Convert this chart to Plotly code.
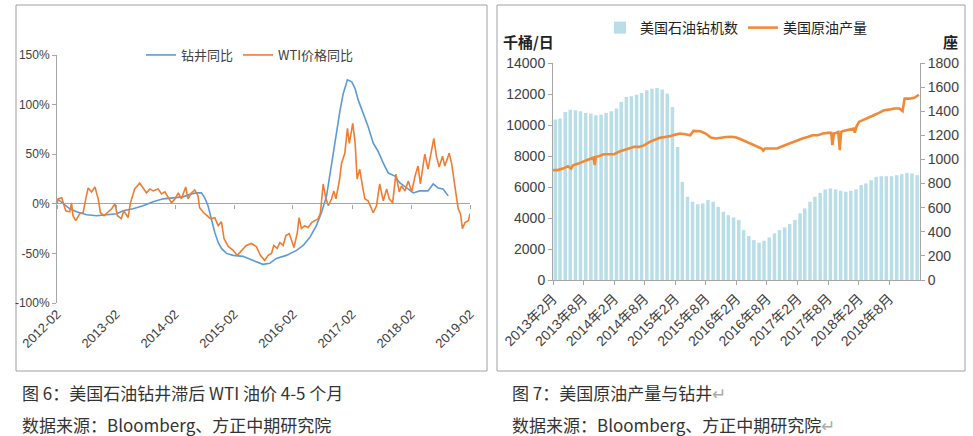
import plotly.graph_objects as go

W, H = 973, 436

# ---------------- Left chart data (YoY, %) ----------------
rig_dates = ["2012-02-03", "2012-03-10", "2012-04-20", "2012-06-01", "2012-08-02", "2012-10-03",
             "2012-12-04", "2013-02-05", "2013-03-16", "2013-05-17", "2013-07-18", "2013-09-18",
             "2013-11-20", "2014-01-21", "2014-03-22", "2014-05-13", "2014-06-13", "2014-07-14",
             "2014-08-04", "2014-08-24", "2014-09-14", "2014-10-05", "2014-10-26", "2014-11-15",
             "2014-12-16", "2015-01-27", "2015-03-28", "2015-05-29", "2015-07-30", "2015-09-10",
             "2015-10-21", "2015-12-22", "2016-02-23", "2016-04-04", "2016-05-15", "2016-06-25",
             "2016-07-26", "2016-08-27", "2016-09-17", "2016-10-07", "2016-10-28", "2016-11-18",
             "2016-12-08", "2017-01-03", "2017-01-30", "2017-02-20", "2017-03-10", "2017-04-10",
             "2017-05-11", "2017-06-12", "2017-07-12", "2017-08-13", "2017-09-13", "2017-10-24",
             "2017-11-24", "2018-01-05", "2018-02-15", "2018-03-26", "2018-05-17", "2018-06-18",
             "2018-07-18", "2018-08-18", "2018-09-19"]
rig_yoy = [5, 0, -5, -8, -11, -12,
           -11, -10, -7, -5, -2, 2,
           5, 6, 7, 10, 11, 11,
           6, -2, -15, -29, -39, -45,
           -50, -52, -53, -57, -61, -60,
           -55, -52, -47, -42, -34, -22,
           -9, 8, 31, 51, 71, 94,
           111, 125, 123, 116, 105, 91,
           78, 61, 53, 41, 31, 28,
           21, 16, 11, 13, 13, 20,
           16, 15, 8]

wti_dates = ["2012-02-01", "2012-02-09", "2012-03-01", "2012-03-10", "2012-03-26", "2012-04-20", "2012-05-01",
             "2012-05-10", "2012-05-27", "2012-06-21", "2012-07-12", "2012-07-28", "2012-08-12",
             "2012-09-02", "2012-09-23", "2012-10-13", "2012-10-27", "2012-11-18", "2012-12-08",
             "2013-01-05", "2013-01-25", "2013-02-09", "2013-03-05", "2013-03-20", "2013-04-16",
             "2013-05-01", "2013-05-27", "2013-06-27", "2013-07-18", "2013-08-08", "2013-08-29",
             "2013-09-18", "2013-10-19", "2013-11-09", "2013-11-30", "2013-12-21", "2014-01-10",
             "2014-02-01", "2014-02-21", "2014-03-12", "2014-04-08", "2014-04-22", "2014-05-13",
             "2014-06-03", "2014-06-23", "2014-07-03", "2014-07-28", "2014-08-18", "2014-09-08",
             "2014-10-05", "2014-10-26", "2014-11-15", "2014-12-01", "2014-12-27", "2015-01-27",
             "2015-02-21", "2015-03-18", "2015-04-18", "2015-05-19", "2015-06-19", "2015-07-14",
             "2015-08-10", "2015-08-31", "2015-09-21", "2015-10-05", "2015-10-26", "2015-11-12",
             "2015-12-02", "2015-12-19", "2016-01-09", "2016-01-24", "2016-02-07", "2016-02-28",
             "2016-03-10", "2016-03-24", "2016-04-14", "2016-05-05", "2016-05-26", "2016-06-15",
             "2016-07-06", "2016-07-20", "2016-08-06", "2016-08-23", "2016-09-07", "2016-09-27",
             "2016-10-11", "2016-10-24", "2016-11-14", "2016-11-28", "2016-12-18", "2017-01-03",
             "2017-01-15", "2017-02-05", "2017-02-20", "2017-03-04", "2017-03-20", "2017-04-06",
             "2017-04-21", "2017-05-11", "2017-06-12", "2017-07-02", "2017-07-22", "2017-08-13",
             "2017-09-03", "2017-09-19", "2017-10-10", "2017-10-30", "2017-11-20", "2017-12-04",
             "2017-12-25", "2018-01-15", "2018-02-05", "2018-02-26", "2018-03-16", "2018-03-31",
             "2018-04-27", "2018-05-17", "2018-06-07", "2018-06-22", "2018-07-08", "2018-07-25",
             "2018-08-15", "2018-08-29", "2018-09-25", "2018-10-10", "2018-10-30", "2018-11-20",
             "2018-12-04", "2018-12-16", "2019-01-01", "2019-01-22", "2019-02-01"]
wti_yoy = [0, 5, 6, 2, -7, -8, 1,
           -12, -17, -10, -9, 5, 16,
           12, 17, 5, -9, -12, -9,
           -5, 0, -12, -15, -7, -14,
           1, 15, 21, 16, 11, 15,
           13, 15, 10, 12, 6, 1,
           5, 11, 5, 17, 5, 11,
           14, 8, -4, -9, -12, -15,
           -14, -22, -18, -35, -43, -47,
           -52, -48, -42, -40, -43, -52,
           -57, -52, -50, -42, -45, -39,
           -42, -32, -30, -37, -44, -29,
           -14, -25, -22, -24, -19, -17,
           -15, -9, 20, 5, -2, 5,
           13, 5, 23, 41, 51, 76,
           61, 81, 61, 25, 35, 18,
           5, 3, -9, -2, 20, 3,
           15, 5, 1, 30, 12, 18,
           13, 23, 12, 28, 38, 20,
           50, 35, 53, 66, 48, 37,
           48, 38, 51, 41, 18, -5,
           -10, -25, -19, -17, -10]

left_ticks = ["2012-02-01", "2013-02-01", "2014-02-01", "2015-02-01", "2016-02-01",
              "2017-02-01", "2018-02-01", "2019-02-01"]
left_ticktext = ["2012-02", "2013-02", "2014-02", "2015-02", "2016-02", "2017-02", "2018-02", "2019-02"]
left_yvals = [-100, -50, 0, 50, 100, 150]
left_ytext = ["-100%", "-50%", "0%", "50%", "100%", "150%"]

# ---------------- Right chart data ----------------
# monthly oil rig count (2013-02 .. 2019-01)
rig_months = ["%d-%02d-15" % (2013 + (1 + k) // 12, (1 + k) % 12 + 1) for k in range(72)]
rig_count = [1331, 1339, 1394, 1413, 1408, 1400, 1386, 1380, 1367, 1372, 1386, 1400,
             1422, 1477, 1518, 1524, 1537, 1551, 1574, 1587, 1593, 1580, 1546, 1436,
             1104, 814, 690, 649, 629, 635, 663, 649, 607, 566, 538, 519,
             497, 414, 364, 331, 309, 326, 353, 387, 414, 436, 464, 497,
             552, 594, 649, 690, 723, 751, 759, 751, 740, 732, 740, 751,
             787, 801, 828, 856, 861, 861, 861, 870, 878, 889, 883, 870]

prod_dates = ["2013-02-01", "2013-03-01", "2013-04-01", "2013-05-01", "2013-05-20", "2013-06-01",
              "2013-07-01", "2013-08-01", "2013-09-01", "2013-10-01", "2013-10-08", "2013-10-15",
              "2013-11-01", "2013-12-01", "2014-01-01", "2014-02-01", "2014-03-01", "2014-04-01",
              "2014-05-01", "2014-06-01", "2014-07-01", "2014-08-01", "2014-09-01", "2014-10-01",
              "2014-11-01", "2014-12-01", "2015-01-01", "2015-02-01", "2015-03-01", "2015-04-01",
              "2015-05-01", "2015-05-20", "2015-06-01", "2015-07-01", "2015-08-01", "2015-09-01",
              "2015-10-01", "2015-11-01", "2015-12-01", "2016-01-01", "2016-02-01", "2016-03-01",
              "2016-04-01", "2016-05-01", "2016-06-01", "2016-07-01", "2016-07-10", "2016-07-20",
              "2016-08-01", "2016-09-01", "2016-10-01", "2016-11-01", "2016-12-01", "2017-01-01",
              "2017-02-01", "2017-03-01", "2017-04-01", "2017-05-01", "2017-06-01", "2017-07-01",
              "2017-08-01", "2017-08-20", "2017-08-27", "2017-09-05", "2017-09-20", "2017-10-01",
              "2017-10-10", "2017-10-18", "2017-11-01", "2017-12-01", "2018-01-01", "2018-01-08",
              "2018-01-18", "2018-02-01", "2018-03-01", "2018-04-01", "2018-05-01", "2018-06-01",
              "2018-07-01", "2018-08-01", "2018-09-01", "2018-10-01", "2018-10-20", "2018-11-01",
              "2018-12-01", "2019-01-01", "2019-01-25"]
prod_kbd = [7090, 7090, 7190, 7340, 7190, 7400,
            7510, 7620, 7770, 7900, 7420, 7950,
            7990, 8110, 8110, 8120, 8270, 8370,
            8480, 8590, 8590, 8700, 8910, 9060,
            9170, 9230, 9280, 9380, 9450, 9400,
            9340, 9620, 9620, 9600, 9450, 9190,
            9130, 9190, 9230, 9240, 9190, 9060,
            8910, 8760, 8630, 8480, 8350, 8480,
            8480, 8480, 8480, 8630, 8760, 8910,
            9020, 9130, 9230, 9340, 9340, 9450,
            9490, 9500, 8700, 9450, 9500, 9550,
            8380, 9550, 9620, 9710, 9770, 9500,
            9900, 10200, 10350, 10480, 10630, 10780,
            10950, 10990, 11060, 11060, 10900, 11700,
            11700, 11770, 11950]

right_ticks = ["2013-02-01", "2013-08-01", "2014-02-01", "2014-08-01", "2015-02-01", "2015-08-01",
               "2016-02-01", "2016-08-01", "2017-02-01", "2017-08-01", "2018-02-01", "2018-08-01"]
right_ticktext = ["2013年2月", "2013年8月", "2014年2月", "2014年8月", "2015年2月", "2015年8月",
                  "2016年2月", "2016年8月", "2017年2月", "2017年8月", "2018年2月", "2018年8月"]

# ---------------- Figure ----------------
FONT = "Liberation Sans Narrow, Liberation Sans, Noto Sans CJK SC, sans-serif"
CJK = "Noto Sans CJK SC, Liberation Sans, sans-serif"
AX = "#A6A6A6"
TXT = "#404040"

def fx(p):
    return p / W

def fy(p):
    return 1 - p / H

L_X = [fx(57), fx(470)]
L_Y = [fy(303), fy(55)]
R_X = [fx(553), fx(920)]
R_Y = [fy(280), fy(63)]
zero_pos = L_Y[0] + (0 - (-100)) / 250 * (L_Y[1] - L_Y[0])

fig = go.Figure()
fig.add_trace(go.Scatter(x=rig_dates, y=rig_yoy, name="钻井同比", mode="lines",
                         line=dict(color="#5B9BD5", width=1.6), xaxis="x", yaxis="y", legend="legend"))
fig.add_trace(go.Scatter(x=wti_dates, y=wti_yoy, name="WTI价格同比", mode="lines",
                         line=dict(color="#ED7D31", width=1.6), xaxis="x", yaxis="y", legend="legend"))
fig.add_trace(go.Scatter(x=[], y=[], xaxis="x3", yaxis="y", showlegend=False, hoverinfo="skip"))
fig.add_trace(go.Bar(x=rig_months, y=rig_count, name="美国石油钻机数", marker=dict(color="#B9DEE8", line_width=0),
                     xaxis="x2", yaxis="y2", legend="legend2"))
fig.add_trace(go.Scatter(x=prod_dates, y=prod_kbd, name="美国原油产量", mode="lines",
                         line=dict(color="#F08A36", width=2.6), xaxis="x2", yaxis="y3", legend="legend2"))

common = dict(automargin=False, showgrid=False)
fig.update_layout(
    width=W, height=H,
    margin=dict(l=0, r=0, t=0, b=0, autoexpand=False),
    paper_bgcolor="white", plot_bgcolor="rgba(0,0,0,0)",
    font=dict(family=FONT, size=12, color=TXT),
    bargap=0.25,
    xaxis=dict(domain=L_X, anchor="y", type="date", range=["2012-02-01", "2019-02-01"],
               tickvals=left_ticks, ticktext=left_ticktext, tickangle=-45,
               zeroline=False, showline=False, ticks="",
               tickfont=dict(size=13, color=TXT), **common),
    xaxis3=dict(overlaying="x", anchor="free", position=zero_pos, type="date",
                range=["2012-02-01", "2019-02-01"], tickvals=left_ticks, showticklabels=False,
                ticks="outside", ticklen=4, tickcolor=AX, zeroline=False, showline=False, **common),
    yaxis=dict(domain=L_Y, anchor="x", range=[-100, 150], tickvals=left_yvals, ticktext=left_ytext,
               showline=True, linecolor=AX, ticks="outside",
               ticklen=4, tickcolor=AX, zeroline=True, zerolinecolor=AX, zerolinewidth=1.3,
               tickfont=dict(size=12, color=TXT), **common),
    xaxis2=dict(domain=R_X, anchor="y2", type="date", range=["2013-02-01", "2019-02-01"],
                tickvals=right_ticks, ticktext=right_ticktext, tickangle=-45,
                zeroline=False, showline=True, linecolor=AX, ticks="outside",
                ticklen=4, tickcolor=AX, tickfont=dict(family=FONT, size=14, color=TXT), **common),
    yaxis2=dict(domain=R_Y, anchor="x2", side="right", range=[0, 1800], dtick=200, tickformat="d",
                zeroline=False, showline=True, linecolor=AX, ticks="outside",
                ticklen=4, tickcolor=AX, tickfont=dict(size=14, color=TXT), **common),
    yaxis3=dict(overlaying="y2", anchor="x2", side="left", range=[0, 14000], dtick=2000, tickformat="d",
                zeroline=False, showline=True, linecolor=AX, ticks="outside",
                ticklen=4, tickcolor=AX, tickfont=dict(size=14, color=TXT), **common),
    legend=dict(orientation="h", x=fx(250), xanchor="center", y=fy(55), yanchor="middle",
                font=dict(family=CJK, size=13, color=TXT), bgcolor="rgba(0,0,0,0)",
                itemwidth=30, tracegroupgap=0),
    legend2=dict(orientation="h", x=fx(736), xanchor="center", y=fy(28), yanchor="middle",
                 font=dict(family=CJK, size=14, color="#222"), bgcolor="rgba(0,0,0,0)",
                 itemwidth=30),
    showlegend=True,
)

# frames around the two charts
fig.add_shape(type="rect", xref="paper", yref="paper", x0=fx(16), x1=fx(487), y0=fy(371), y1=fy(5),
              line=dict(color="#A0A0A0", width=1), layer="below")
fig.add_shape(type="rect", xref="paper", yref="paper", x0=fx(497), x1=fx(965), y0=fy(371), y1=fy(5),
              line=dict(color="#A0A0A0", width=1), layer="below")

ann = []
ann.append(dict(text="<b>千桶/日</b>", x=fx(501), y=fy(42), xanchor="left", yanchor="middle",
                font=dict(family=CJK, size=15, color="#222")))
ann.append(dict(text="<b>座</b>", x=fx(950), y=fy(42), xanchor="center", yanchor="middle",
                font=dict(family=CJK, size=15, color="#222")))
cap = dict(family=CJK, size=17, color="#333")
ann.append(dict(text="图 6：美国石油钻井滞后 WTI 油价 4-5 个月", x=fx(20), y=fy(392), xanchor="left",
                yanchor="middle", font=cap))
ann.append(dict(text="数据来源：Bloomberg、方正中期研究院", x=fx(20), y=fy(424), xanchor="left",
                yanchor="middle", font=cap))
ann.append(dict(text="图 7：美国原油产量与钻井<span style='color:#aaaaaa'>↵</span>", x=fx(510), y=fy(392),
                xanchor="left", yanchor="middle", font=cap))
ann.append(dict(text="数据来源：Bloomberg、方正中期研究院<span style='color:#aaaaaa'>↵</span>", x=fx(510),
                y=fy(424), xanchor="left", yanchor="middle", font=cap))
for a in ann:
    a.update(xref="paper", yref="paper", showarrow=False)
fig.update_layout(annotations=ann)

fig.write_html("out.html", config={"displayModeBar": False},
               post_script="document.body.style.margin='0';document.body.style.padding='0';"
                           "document.body.style.overflow='hidden';")
